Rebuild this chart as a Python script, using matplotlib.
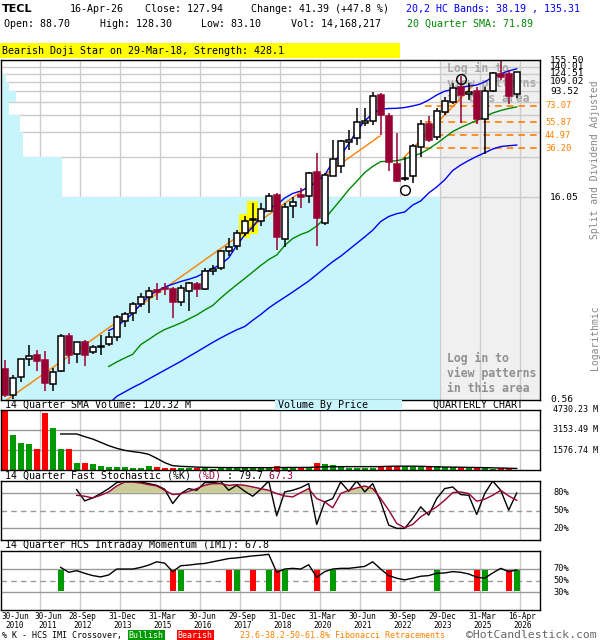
import numpy as np
import matplotlib
matplotlib.use("Agg")
import matplotlib.pyplot as plt
from matplotlib.patches import Rectangle
from matplotlib.ticker import NullLocator
import matplotlib.transforms as mtrans

plt.rcParams['font.family'] = ['DejaVu Sans Mono', 'DejaVu Sans']

# ---------------- data ----------------
opens = [0.93, 0.60, 0.82, 1.09, 1.17, 1.08, 0.72, 0.90, 1.60, 1.19,
         1.45, 1.24, 1.35, 1.42, 1.59, 2.06, 2.35, 2.73, 3.05, 3.45,
         3.56, 3.51, 2.81, 3.39, 3.81, 3.51, 4.72, 4.94, 6.54, 7.19,
         8.83, 11.05, 10.88, 12.80, 16.68, 8.00, 13.97, 16.60, 16.48, 24.42,
         10.42, 23.00, 27.00, 40.17, 42.71, 54.80, 56.90, 87.60, 62.13, 27.89,
         21.70, 22.85, 36.80, 54.15, 43.42, 66.00, 78.39, 99.50, 88.65, 93.60,
         58.50, 93.60, 124.1, 124.1, 88.70]
highs = [1.08, 0.84, 1.10, 1.39, 1.28, 1.26, 0.94, 1.66, 1.69, 1.46,
         1.51, 1.39, 1.64, 1.73, 2.28, 2.38, 2.81, 3.30, 3.64, 3.85,
         3.89, 3.62, 3.75, 3.94, 3.96, 4.97, 5.25, 6.70, 8.13, 9.33,
         11.77, 14.68, 14.68, 17.16, 17.16, 14.53, 16.21, 18.65, 24.42, 33.64,
         23.89, 41.52, 41.52, 49.02, 70.26, 70.26, 91.60, 90.10, 64.67, 46.41,
         31.30, 38.85, 57.86, 61.83, 70.26, 85.15, 106.3, 120.7, 107.5, 100.5,
         99.50, 128.9, 155.5, 132.6, 128.30]
lows = [0.58, 0.565, 0.75, 0.97, 0.90, 0.65, 0.65, 0.88, 1.01, 1.03,
        0.97, 1.19, 1.17, 1.36, 1.48, 1.88, 2.07, 2.61, 2.34, 2.92,
        3.17, 2.16, 2.65, 2.43, 3.05, 3.45, 4.42, 4.80, 6.06, 6.70,
        8.45, 9.07, 9.97, 12.57, 6.70, 7.07, 11.33, 13.38, 14.53, 7.19,
        10.14, 22.85, 23.89, 35.18, 38.22, 52.40, 53.60, 45.10, 24.95, 20.80,
        21.20, 20.24, 31.48, 39.96, 41.52, 62.87, 75.45, 54.80, 80.63, 54.15,
        32.90, 91.90, 112.4, 75.45, 83.10]
closes = [0.60, 0.80, 1.09, 1.15, 1.07, 0.74, 0.88, 1.60, 1.17, 1.45,
          1.17, 1.35, 1.36, 1.59, 2.21, 2.30, 2.72, 3.05, 3.39, 3.32,
          3.53, 2.81, 3.55, 3.85, 3.51, 4.75, 4.91, 6.59, 7.00, 8.83,
          10.88, 11.14, 13.15, 16.48, 8.25, 13.74, 14.92, 16.13, 23.89, 11.44,
          23.23, 30.15, 40.84, 41.52, 55.70, 56.90, 86.16, 62.87, 28.68, 21.13,
          22.00, 37.60, 54.15, 41.52, 67.19, 79.70, 97.95, 87.60, 91.62, 58.50,
          94.10, 125.5, 118.7, 86.55, 127.94]
volumes = [4730, 2759, 2155, 2050, 1655, 4520, 3337, 1655, 1655, 578,
           578, 473, 342, 263, 263, 263, 184, 184, 342, 263,
           184, 184, 140, 120, 130, 120, 110, 120, 130, 120,
           140, 130, 160, 170, 315, 263, 263, 263, 158, 552,
           473, 394, 210, 160, 150, 150, 160, 200, 315, 315,
           315, 263, 210, 210, 315, 210, 210, 210, 158, 210,
           210, 105, 158, 158, 14.17]

band_start = 13
upper_band = [1.76, 1.88, 2.09, 2.34, 2.72, 3.11, 3.39, 3.62, 3.80, 3.97,
              4.12, 4.30, 4.60, 4.92, 5.27, 5.88, 7.22, 8.59, 9.77, 11.77,
              13.44, 14.12, 15.87, 17.10, 17.82, 19.04, 20.68, 23.23, 28.83, 32.22,
              38.85, 48.21, 56.90, 64.46, 69.20, 70.03, 70.26, 71.19, 73.00, 75.45,
              80.63, 87.60, 93.30, 96.00, 99.05, 101.5, 103.4, 108.7, 117.8, 124.5,
              130.5, 135.31]
sma20 = [0.97, 1.045, 1.116, 1.187, 1.394, 1.518, 1.662, 1.79, 1.888, 1.994,
         2.131, 2.278, 2.475, 2.669, 3.02, 3.38, 3.764, 4.173, 4.648, 5.179,
         5.71, 6.163, 7.216, 8.104, 8.66, 9.10, 9.97, 11.29, 13.13, 15.43,
         18.18, 20.92, 24.18, 26.79, 29.02, 29.2, 29.45, 30.3, 31.85, 33.2,
         35.77, 39.18, 43.27, 47.8, 51.09, 54.15, 57.38, 60.81, 65.0, 67.74,
         70.03, 71.89]
lower_band = [0.52, 0.591, 0.636, 0.684, 0.731, 0.788, 0.848, 0.912, 0.981, 1.055,
              1.143, 1.233, 1.336, 1.446, 1.556, 1.668, 1.782, 1.882, 2.086, 2.297,
              2.558, 2.803, 3.054, 3.336, 3.654, 4.003, 4.452, 4.967, 5.514, 6.041,
              6.72, 7.479, 8.32, 9.30, 10.74, 11.67, 12.23, 12.58, 14.12, 15.10,
              17.24, 19.04, 21.45, 25.03, 27.42, 29.55, 31.63, 33.58, 35.77, 37.24,
              37.76, 38.19]

volsma_start = 7
vol_sma = [2840, 2840, 2840, 2630, 2440, 2180, 1920, 1710, 1550, 1450,
           1370, 1240, 920, 580, 340, 290, 260, 230, 210, 200,
           195, 190, 190, 185, 185, 185, 185, 190, 195, 200,
           200, 205, 230, 250, 260, 265, 265, 265, 265, 265,
           270, 290, 300, 300, 300, 290, 270, 250, 235, 225,
           215, 205, 195, 185, 170, 155, 140, 120.32]

stoch_start = 9
stoch_k = [85.4, 66.3, 71.3, 78.7, 87.1, 97.2, 100, 100, 98.3, 95.5,
           92.7, 86.0, 61.8, 78.7, 87.1, 84.3, 97.2, 97.2, 99.4, 84.3,
           92.7, 82.6, 74.2, 86.0, 100, 41.0, 81.5, 84.3, 88.8, 95.5,
           26.4, 64.6, 70.2, 98.3, 82.6, 100, 81.5, 95.5, 64.6, 25.3,
           19.7, 19.7, 36.5, 56.2, 42.1, 70.2, 87.1, 89.9, 77.0, 75.8,
           43.3, 78.7, 100, 84.3, 50.6, 79.7]
stoch_d = [75.8, 74.2, 71.3, 75.8, 81.5, 91.6, 98.3, 98.3, 96.6, 93.8,
           91.6, 84.3, 77.0, 78.1, 82.6, 87.1, 92.7, 95.5, 95.5, 92.7,
           93.8, 92.7, 89.9, 87.1, 84.3, 78.7, 74.7, 73.0, 80.3, 87.1,
           70.2, 64.6, 54.5, 78.7, 84.3, 88.2, 91.6, 87.1, 70.2, 50.6,
           28.1, 20.8, 26.4, 39.3, 47.8, 56.2, 67.4, 80.3, 81.5, 78.7,
           65.7, 69.1, 75.8, 84.3, 74.7, 67.3]

imi_start = 7
imi = [72.2, 63.9, 66.7, 62.2, 58.3, 56.1, 59.4, 69.4, 69.4, 69.4,
       72.2, 76.1, 81.7, 79.4, 65.0, 75.0, 76.1, 77.8, 78.9, 81.7,
       84.4, 87.2, 88.3, 90.0, 91.7, 92.8, 94.4, 63.9, 69.4, 70.6,
       69.4, 76.7, 55.6, 65.0, 69.4, 70.6, 70.6, 72.2, 73.9, 81.7,
       69.4, 58.3, 53.9, 51.1, 53.9, 57.2, 58.3, 62.2, 62.8, 65.0,
       63.9, 61.1, 55.6, 53.9, 62.8, 70.6, 65.0, 67.8]
bull_cross = [7, 22, 29, 33, 35, 41, 54, 60, 64]
bear_cross = [21, 28, 31, 34, 39, 48, 59, 63]

date_labels = ["30-Jun\n2010", "30-Jun\n2011", "28-Sep\n2012", "31-Dec\n2013",
               "31-Mar\n2015", "30-Jun\n2016", "29-Sep\n2017", "31-Dec\n2018",
               "31-Mar\n2020", "30-Jun\n2021", "30-Sep\n2022", "29-Dec\n2023",
               "31-Mar\n2025", "16-Apr\n2026"]
date_idx = [0, 4, 9, 14, 19, 24, 29, 34, 39, 44, 49, 54, 59, 64]

price_grid = [16.05, 31.54, 47.04, 62.53, 78.03, 93.52, 109.02, 124.51, 140.01, 155.50]
price_labels = ["155.50", "140.01", "124.51", "109.02", "93.52", "16.05", "0.56"]
price_min, price_max = 0.56, 155.50
fib_levels = [73.07, 55.87, 44.97, 36.20]
fib_start = 52.5
vbp_edges = [0.56, 16.05, 31.54, 47.04, 62.53, 78.03, 93.52, 109.02, 124.51, 140.01, 155.50]
vbp_volume = [100, 13.9, 5.0, 4.3, 1.8, 3.4, 1.8, 1.1, 0.3, 0.0]
trend1_x, trend1_y = [0, 46.9], [0.543, 44.4]
trend2_x, trend2_y = [49.8, 58.6], [30.6, 103.4]
pattern_marks_x = [50, 57]
pattern_marks_y = [18.1, 114.3]
highlight = [30, 31]

vol_max = 4730.23
vol_grid = [1576.74, 3153.49]
vol_labels = ["4730.23 M", "3153.49 M", "1576.74 M"]

# ---------------- layout helpers ----------------
W, H = 600, 640
fig = plt.figure(figsize=(W / 100, H / 100), dpi=100)
fig.patch.set_facecolor('white')

RED_C = '#990033'
VOL_G = '#009900'
VOL_R = '#ff0000'
GRID = '#cccccc'
GRID2 = '#999999'


def px_axes(x0, y0, x1, y1):
    a = fig.add_axes([x0 / W, 1 - y1 / H, (x1 - x0) / W, (y1 - y0) / H])
    a.set_xticks([])
    a.set_yticks([])
    for s in a.spines.values():
        s.set_linewidth(1.0)
        s.set_color('black')
        s.set_zorder(10)
    return a


def ftext(x, y, s, size=7.2, color='black', **kw):
    kw.setdefault('va', 'center')
    kw.setdefault('ha', 'left')
    return fig.text(x / W, 1 - y / H, s, fontsize=size, color=color, **kw)


SLOT, FIRST = 8.0, 4.7
LEFT, RIGHT = 1.0, 540.0
xmin = (LEFT - FIRST) / SLOT
xmax = (RIGHT - FIRST) / SLOT
n = len(closes)
idx = np.arange(n)
grid_x = [d + 0.45 for d in date_idx[1:]]
shade_x = date_idx[11] + 0.45

# ---------------- main price panel ----------------
ax = px_axes(LEFT, 60.4, RIGHT, 399.6)
ax.set_yscale('log')
ax.yaxis.set_major_locator(NullLocator())
ax.yaxis.set_minor_locator(NullLocator())
ax.set_ylim(price_min, price_max)
ax.set_xlim(xmin, xmax)

ax.axvspan(shade_x, xmax, color='#f0f0f0', lw=0, zorder=0.2)
for p in price_grid:
    ax.axhline(p, color=GRID, lw=1, zorder=0.5)
for gx in grid_x:
    ax.axvline(gx, color=GRID, lw=1, zorder=0.5)

vb = np.array(vbp_volume)
ax.barh(vbp_edges[:-1], vb / vb.max() * (shade_x - xmin), height=np.diff(vbp_edges),
        left=xmin, align='edge', color='#c8f4fc', lw=0, zorder=1)

for h in highlight:
    ax.add_patch(Rectangle((h - 0.67, lows[h] / 1.035), 1.34,
                           highs[h] * 1.035 - lows[h] / 1.035,
                           color='#ffff00', lw=0, zorder=2))

# pattern text (behind candles)
for (yy, col) in [(62, '#a8a8a8'), (352, '#909090')]:
    ax.text(447 / W, 1 - yy / H, "Log in to\nview patterns\nin this area",
            transform=fig.transFigure, fontsize=8.3, color=col, fontweight='bold',
            va='top', ha='left', linespacing=1.2, zorder=2.5)

ax.plot(trend1_x, trend1_y, color='#ff8000', lw=1, zorder=3)
ax.plot(trend2_x, trend2_y, color='#ff8000', lw=1, zorder=3)
ax.hlines(fib_levels, fib_start, xmax, colors='#ff8000', linestyles=(0, (4, 3)),
          lw=1.2, zorder=3)

xb = idx[band_start:]
ax.plot(xb, upper_band, color='#0000ff', lw=1, zorder=3)
ax.plot(xb, lower_band, color='#0000ff', lw=1, zorder=3)
ax.plot(xb, sma20, color='#008800', lw=1, zorder=3)

for i in range(n):
    o, hi, lo, c = opens[i], highs[i], lows[i], closes[i]
    up = c >= o
    ec = 'black' if up else RED_C
    fc = 'white' if up else RED_C
    ax.vlines(i, lo, hi, color=ec, lw=1.1, zorder=4)
    bot, top = min(o, c), max(o, c)
    ax.bar(i, top - bot, bottom=bot, width=0.72, color=fc, edgecolor=ec,
           lw=1.1, zorder=5)

ax.plot(pattern_marks_x, pattern_marks_y, 'o', ms=7, mfc='none', mec='black',
        mew=1, zorder=6)

tr = mtrans.blended_transform_factory(ax.transAxes, ax.transData)
label_vals = [float(s) for s in price_labels]
for s, v in zip(price_labels, label_vals):
    ax.text(549 / 539, v, s, transform=tr, fontsize=6.8, va='center',
            ha='left', clip_on=False)
for v in fib_levels:
    ax.text(544 / 539, v, f"{v:.2f}", transform=tr, fontsize=6.3,
            va='center', ha='left', color='#ff8000', clip_on=False)

ftext(595, 160, "Split and Dividend Adjusted", size=7.0, color='#888888',
      rotation=90, ha='center')
ftext(595, 338, "Logarithmic", size=7.0, color='#888888', rotation=90, ha='center')

# ---------------- volume panel ----------------
axv = px_axes(LEFT, 410, RIGHT, 470)
axv.set_xlim(xmin, xmax)
axv.set_ylim(0, vol_max)
for v in vol_grid:
    axv.axhline(v, color=GRID2, lw=1, zorder=0.5)
for gx in grid_x:
    axv.axvline(gx, color=GRID, lw=1, zorder=0.4)
vcols = [VOL_G if c >= o else VOL_R for o, c in zip(opens, closes)]
axv.bar(idx, volumes, width=0.75, color=vcols, lw=0, zorder=2)
axv.plot(idx[volsma_start:], vol_sma, color='black', lw=1, zorder=3)
trv = mtrans.blended_transform_factory(axv.transAxes, axv.transData)
for s, v in zip(vol_labels, [vol_max] + vol_grid[::-1]):
    axv.text(552 / 539, v, s, transform=trv, fontsize=6.0, va='center',
             ha='left', clip_on=False)

# ---------------- stochastic panel ----------------
axs = px_axes(LEFT, 481, RIGHT, 540)
axs.set_xlim(xmin, xmax)
axs.set_ylim(0, 100)
for gx in grid_x:
    axs.axvline(gx, color=GRID, lw=1, zorder=0.4)
axs.axhline(80, color=GRID2, lw=1, zorder=0.5)
axs.axhline(20, color=GRID2, lw=1, zorder=0.5)
axs.axhline(50, color=GRID2, lw=1, ls=(0, (4, 3)), zorder=0.5)
xs = idx[stoch_start:]
dd = np.array(stoch_d)
axs.fill_between(xs, 80, dd, where=dd >= 80, interpolate=True, color='#cccc99',
                 lw=0, zorder=1)
axs.plot(xs, stoch_k, color='black', lw=1, zorder=3)
axs.plot(xs, stoch_d, color=RED_C, lw=1, zorder=3)
trs = mtrans.blended_transform_factory(axs.transAxes, axs.transData)
for v in (80, 50, 20):
    axs.text(552 / 539, v, f"{v}%", transform=trs, fontsize=6.2,
             va='center', ha='left', clip_on=False)

# ---------------- IMI panel ----------------
axi = px_axes(LEFT, 551, RIGHT, 610)
axi.set_xlim(xmin, xmax)
axi.set_ylim(0, 100)
for gx in grid_x:
    axi.axvline(gx, color=GRID, lw=1, zorder=0.4)
axi.axhline(70, color=GRID2, lw=1, zorder=0.5)
axi.axhline(30, color=GRID2, lw=1, zorder=0.5)
axi.axhline(50, color=GRID2, lw=1, ls=(0, (4, 3)), zorder=0.5)
axi.bar(bull_cross, 35, bottom=32, width=0.75, color=VOL_G, lw=0, zorder=2)
axi.bar(bear_cross, 35, bottom=32, width=0.75, color=VOL_R, lw=0, zorder=2)
axi.plot(idx[imi_start:], imi, color='black', lw=1, zorder=3)
tri = mtrans.blended_transform_factory(axi.transAxes, axi.transData)
for v in (70, 50, 30):
    axi.text(552 / 539, v, f"{v}%", transform=tri, fontsize=6.2,
             va='center', ha='left', clip_on=False)

# date labels
for k, (d, s) in enumerate(zip(date_idx, date_labels)):
    xp = FIRST + SLOT * (d + 0.45) + 2
    if k == 0:
        xp = 15
    elif k == 1:
        xp = 48
    ftext(xp, 621, s, size=5.6, ha='center', linespacing=1.0)

# ---------------- header ----------------
ftext(2, 9, "TECL", size=8, fontweight='bold', family='DejaVu Sans')
ftext(70, 9, "16-Apr-26")
ftext(145, 9, "Close: 127.94")
ftext(251, 9, "Change: 41.39 (+47.8 %)")
ftext(406, 9, "20,2 HC Bands: 38.19 , 135.31", color='#0000ff')
ftext(4, 24, "Open: 88.70")
ftext(100, 24, "High: 128.30")
ftext(201, 24, "Low: 83.10")
ftext(291, 24, "Vol: 14,168,217")
ftext(407, 24, "20 Quarter SMA: 71.89", color='#008800')

fig.patches.append(Rectangle((0, 1 - 58 / H), 400 / W, 15 / H, transform=fig.transFigure,
                             color='#ffff00', lw=0, zorder=0))
ftext(2, 50.5, "Bearish Doji Star on 29-Mar-18, Strength: 428.1")

# panel captions
ftext(5, 405, "14 Quarter SMA Volume: 120.32 M")
fig.patches.append(Rectangle((275 / W, 1 - 410 / H), 127 / W, 10 / H,
                             transform=fig.transFigure, color='#c8f4fc', lw=0, zorder=0))
ftext(278, 405, "Volume By Price")
ftext(433, 405, "QUARTERLY CHART")
ftext(5, 475.5, "14 Quarter Fast Stochastic (%K)      : 79.7     ")
ftext(5, 475.5, "                                (%D)        67.3", color=RED_C)
ftext(5, 545.5, "14 Quarter HCS Intraday Momentum (IMI): 67.8")

# bottom legend
ftext(2, 635.5, "% K - HCS IMI Crossover,", size=6.0)
ftext(146, 635.5, "Bullish", size=6.0, color='white', ha='center',
      bbox=dict(boxstyle='square,pad=0.12', fc=VOL_G, ec='none'))
ftext(195, 635.5, "Bearish", size=6.0, color='white', ha='center',
      bbox=dict(boxstyle='square,pad=0.12', fc=VOL_R, ec='none'))
ftext(240, 635.5, "23.6-38.2-50-61.8% Fibonacci Retracements", size=6.0, color='#ff8000')
ftext(466, 635.5, "\u00a9HotCandlestick.com", size=8.2, color='#666666')

fig.savefig("out.png", dpi=100)
